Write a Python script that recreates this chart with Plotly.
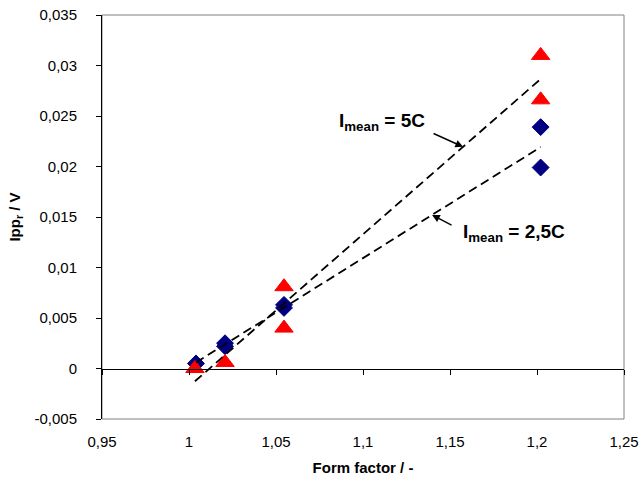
import numpy as np
import plotly.graph_objects as go

# ---- data ----
ff_5C = [1.0034, 1.0207, 1.0546, 1.0546, 1.2021, 1.2021]
ipp_5C = [0.0, 0.0006, 0.0081, 0.0040, 0.0310, 0.0266]

ff_25C = [1.0040, 1.0207, 1.0207, 1.0546, 1.0546, 1.2021, 1.2021]
ipp_25C = [0.0005, 0.0025, 0.0022, 0.0063, 0.0060, 0.0239, 0.0199]

x_ticks = [0.95, 1.0, 1.05, 1.1, 1.15, 1.2, 1.25]
y_ticks = [-0.005, 0, 0.005, 0.01, 0.015, 0.02, 0.025, 0.03, 0.035]

def fmt(v):
    return f"{v:g}".replace(".", ",")

# linear trendlines (as Excel would compute)
def trend(x, y):
    k, b = np.polyfit(x, y, 1)
    xs = np.array([min(x), max(x)])
    return xs, k * xs + b, k, b

tx5, ty5, k5, b5 = trend(ff_5C, ipp_5C)
tx25, ty25, k25, b25 = trend(ff_25C, ipp_25C)

FONT = "Liberation Sans, Arial, sans-serif"

fig = go.Figure()
fig.add_trace(go.Scatter(x=ff_25C, y=ipp_25C, mode="markers",
                         marker=dict(symbol="diamond", size=13, color="#000080",
                                     line=dict(color="#000080", width=1)),
                         showlegend=False))
fig.add_trace(go.Scatter(x=ff_5C, y=ipp_5C, mode="markers",
                         marker=dict(symbol="triangle-up", size=16, color="#FF0000",
                                     line=dict(color="#FF0000", width=1)),
                         showlegend=False))
fig.add_trace(go.Scatter(x=tx5, y=ty5, mode="lines",
                         line=dict(color="black", width=1.8, dash="9px,5px"),
                         showlegend=False))
fig.add_trace(go.Scatter(x=tx25, y=ty25, mode="lines",
                         line=dict(color="black", width=1.8, dash="9px,5px"),
                         showlegend=False))

# plot-area border
fig.add_shape(type="rect", xref="paper", yref="paper", x0=0, x1=1, y0=0, y1=1,
              line=dict(color="#808080", width=1), layer="below")

# annotations with arrows pointing at the trendlines
xa5 = 1.1575
xa25 = 1.1397
fig.add_annotation(x=xa5, y=k5 * xa5 + b5, text="", showarrow=True,
                   ax=-31, ay=-14, arrowhead=2, arrowsize=1.1, arrowwidth=1.4,
                   arrowcolor="black")
fig.add_annotation(x=xa25, y=k25 * xa25 + b25, text="", showarrow=True,
                   ax=21, ay=11, arrowhead=2, arrowsize=1.1, arrowwidth=1.4,
                   arrowcolor="black")
fig.add_annotation(x=1.1109, y=0.0244, text="<b>I<sub>mean</sub> = 5C</b>",
                   showarrow=False, font=dict(family=FONT, size=19, color="black"))
fig.add_annotation(x=1.1868, y=0.0134, text="<b>I<sub>mean</sub> = 2,5C</b>",
                   showarrow=False, font=dict(family=FONT, size=19, color="black"))

fig.update_layout(
    width=643, height=477,
    margin=dict(l=102, r=19, t=15, b=58, autoexpand=False),
    paper_bgcolor="white", plot_bgcolor="white",
    font=dict(family=FONT, size=14, color="black"),
    xaxis=dict(range=[0.95, 1.25], tickvals=x_ticks,
               ticktext=[fmt(v) for v in x_ticks], automargin=False,
               ticklabeloverflow="allow",
               showgrid=False, zeroline=False, showline=False,
               ticks="outside", ticklen=9, tickcolor="rgba(0,0,0,0)",
               tickfont=dict(size=15),
               title=dict(text="<b>Form factor / -</b>", font=dict(size=15), standoff=13)),
    xaxis2=dict(range=[0.95, 1.25], tickvals=x_ticks, showticklabels=False,
                overlaying="x", anchor="free", position=0.125, automargin=False,
                showgrid=False, zeroline=False, showline=True, linecolor="black",
                linewidth=1, ticks="outside", ticklen=5, tickcolor="black"),
    yaxis=dict(range=[-0.005, 0.035], tickvals=y_ticks,
               ticktext=[fmt(v) for v in y_ticks], automargin=False,
               ticklabeloverflow="allow",
               showgrid=False, zeroline=False, showline=True, linecolor="black",
               linewidth=1, ticks="outside", ticklen=5, tickcolor="black",
               tickfont=dict(size=15), ticklabelstandoff=16,
               title=dict(text="<b>Ipp<sub>r</sub> / V</b>", font=dict(size=15), standoff=10)),
)
# dummy invisible trace on xaxis2 so it is drawn
fig.add_trace(go.Scatter(x=[0.95], y=[0], xaxis="x2", mode="markers",
                         marker=dict(opacity=0), showlegend=False, hoverinfo="skip"))

fig.write_html("out.html", config={"displayModeBar": False},
               post_script="document.body.style.margin='0';"
                           "document.body.style.overflow='hidden';")
